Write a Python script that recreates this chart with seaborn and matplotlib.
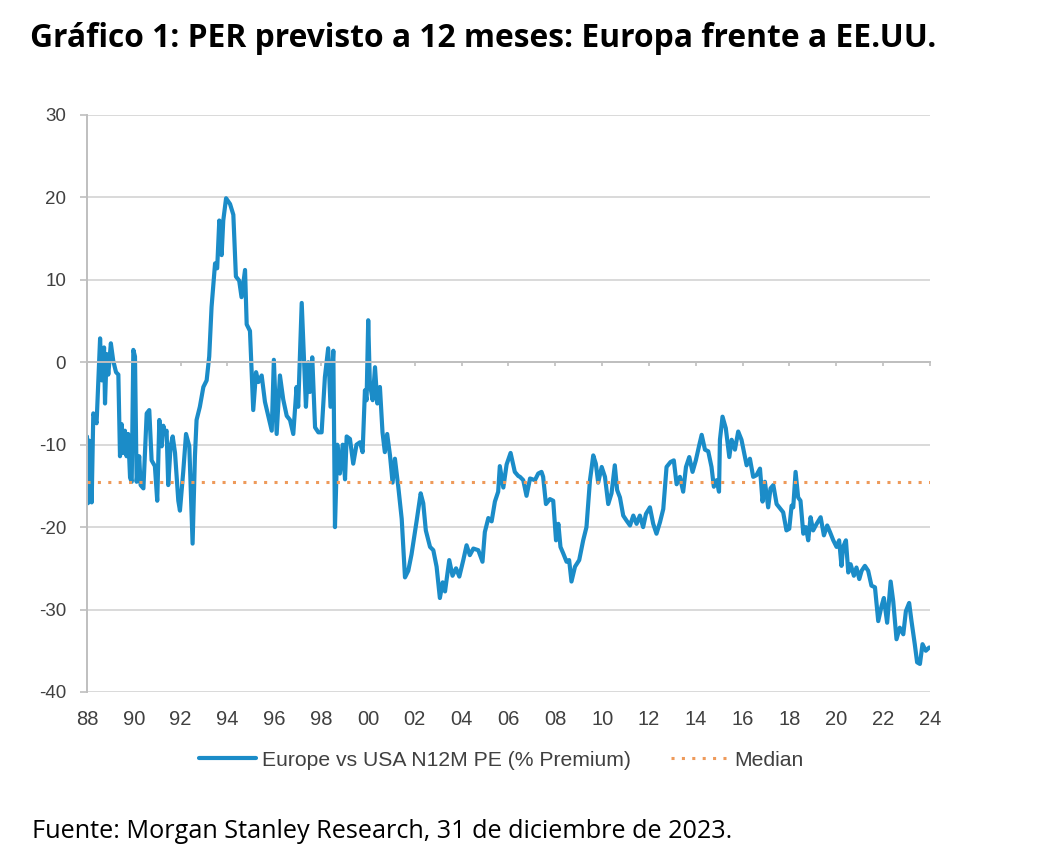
import numpy as np
import pandas as pd
import seaborn as sns
import matplotlib.pyplot as plt

title = "Gráfico 1: PER previsto a 12 meses: Europa frente a EE.UU."
source = "Fuente: Morgan Stanley Research, 31 de diciembre de 2023."
series_label = "Europe vs USA N12M PE (% Premium)"
median_label = "Median"

# decimal year
years = [
    1988.00, 1988.04, 1988.09, 1988.20, 1988.27, 1988.41, 1988.56, 1988.63, 1988.73, 1988.77,
    1988.84, 1988.91, 1989.02, 1989.12, 1989.24, 1989.34, 1989.41, 1989.48, 1989.55, 1989.62,
    1989.69, 1989.76, 1989.84, 1989.91, 1989.98, 1990.05, 1990.12, 1990.23, 1990.29, 1990.41,
    1990.55, 1990.66, 1990.76, 1990.90, 1991.00, 1991.09, 1991.19, 1991.26, 1991.33, 1991.40,
    1991.47, 1991.57, 1991.66, 1991.76, 1991.90, 1991.97, 1992.11, 1992.23, 1992.37, 1992.51,
    1992.61, 1992.68, 1992.82, 1992.97, 1993.11, 1993.22, 1993.32, 1993.47, 1993.56, 1993.65,
    1993.75, 1993.82, 1993.94, 1994.11, 1994.25, 1994.36, 1994.50, 1994.60, 1994.75, 1994.82,
    1994.96, 1995.10, 1995.22, 1995.32, 1995.46, 1995.60, 1995.74, 1995.89, 1995.98, 1996.10,
    1996.24, 1996.38, 1996.53, 1996.67, 1996.81, 1996.95, 1997.02, 1997.17,
    1997.35, 1997.45, 1997.52, 1997.62, 1997.74, 1997.88, 1998.02, 1998.16, 1998.30, 1998.40,
    1998.52, 1998.59, 1998.69, 1998.80, 1998.92, 1999.02, 1999.09, 1999.23, 1999.37, 1999.51,
    1999.66, 1999.77, 1999.87, 1999.94, 2000.01, 2000.08, 2000.20, 2000.30, 2000.40, 2000.51,
    2000.62, 2000.72, 2000.82, 2000.94, 2001.05, 2001.15, 2001.29, 2001.44, 2001.58, 2001.72,
    2001.86, 2002.08, 2002.25, 2002.36, 2002.47, 2002.65, 2002.79, 2002.93, 2003.07, 2003.19,
    2003.29, 2003.47, 2003.61, 2003.76, 2003.90, 2004.07, 2004.21, 2004.35, 2004.50, 2004.71,
    2004.89, 2004.99, 2005.14, 2005.28, 2005.42, 2005.56, 2005.63, 2005.78, 2005.92, 2006.09,
    2006.27, 2006.42,
    2006.49, 2006.63, 2006.77, 2006.92, 2007.13, 2007.27, 2007.41, 2007.48, 2007.60, 2007.77,
    2007.91, 2008.03, 2008.13, 2008.22, 2008.34, 2008.48, 2008.59, 2008.69, 2008.84, 2009.02,
    2009.19, 2009.33, 2009.48, 2009.62, 2009.73, 2009.83, 2009.98, 2010.12, 2010.26, 2010.40,
    2010.54, 2010.64, 2010.76, 2010.90, 2011.04, 2011.19, 2011.33, 2011.47, 2011.61, 2011.75,
    2011.87, 2012.04, 2012.18, 2012.32, 2012.47, 2012.61, 2012.75, 2012.92, 2013.06, 2013.18,
    2013.32, 2013.46, 2013.58, 2013.72, 2013.86, 2014.00, 2014.15, 2014.25, 2014.39, 2014.53,
    2014.67, 2014.77, 2014.89, 2014.99, 2015.03, 2015.14, 2015.28, 2015.43, 2015.53, 2015.67,
    2015.81, 2015.95, 2016.17,
    2016.31, 2016.45, 2016.59, 2016.74, 2016.85, 2016.95, 2017.09, 2017.19, 2017.31, 2017.45,
    2017.62, 2017.73, 2017.87, 2017.99, 2018.09, 2018.16, 2018.26, 2018.37, 2018.47, 2018.59,
    2018.70, 2018.80, 2018.90, 2019.01, 2019.16, 2019.33, 2019.47, 2019.61, 2019.73, 2019.87,
    2020.01, 2020.12, 2020.22, 2020.29, 2020.41, 2020.51, 2020.61, 2020.75, 2020.86, 2020.98,
    2021.08, 2021.22, 2021.36, 2021.50, 2021.65, 2021.79, 2021.93, 2022.03, 2022.17, 2022.32,
    2022.43, 2022.57, 2022.71, 2022.86, 2022.97, 2023.11, 2023.21, 2023.35, 2023.45, 2023.57,
    2023.68, 2023.82, 2023.97,
]

# Europe vs USA 12m fwd PE premium, %
premium = [
    -9.0, -17.1, -9.5, -17.0, -6.2, -7.4, 2.9, -2.2, 1.8, -5.0,
    1.0, -1.5, 2.3, 0.2, -1.2, -1.5, -11.4, -7.5, -11.0, -8.3,
    -11.4, -8.7, -14.0, -14.5, 1.5, 0.7, -14.5, -11.4, -14.9, -15.3,
    -6.2, -5.8, -11.9, -12.6, -16.8, -7.0, -10.2, -7.7, -8.7, -8.3,
    -14.9, -10.2, -9.0, -11.0, -16.8, -18.0, -13.3, -8.7, -10.2, -22.0,
    -11.4, -7.0, -5.4, -3.0, -2.2, 0.7, 6.7, 12.0, 11.4, 17.2,
    13.0, 17.2, 19.9, 19.2, 17.9, 10.4, 9.9, 7.9, 11.2, 4.6,
    3.8, -5.8, -1.2, -2.4, -1.6, -4.8, -6.5, -8.3, 0.3, -8.7,
    -1.6, -4.5, -6.5, -7.0, -8.7, -3.0, -5.4, 7.2,
    -5.4, 0.0, -3.6, 0.6, -7.9, -8.5, -8.5, -1.8, 1.7, -5.4,
    1.4, -20.0, -10.0, -13.5, -10.0, -14.2, -9.0, -9.3, -12.3, -10.0,
    -9.7, -10.9, -3.4, -4.6, 5.1, -2.6, -4.6, -0.6, -5.0, -3.0,
    -8.5, -10.9, -8.7, -11.3, -14.6, -11.7, -15.0, -19.0, -26.1, -25.3,
    -23.3, -19.2, -15.9, -17.1, -20.4, -22.4, -22.8, -24.8, -28.6, -26.7,
    -27.8, -24.0, -25.9, -25.0, -26.0, -24.0, -22.2, -23.4, -22.6, -22.8,
    -24.2, -20.6, -18.9, -19.3, -16.9, -15.7, -12.6, -15.2, -12.4, -11.0,
    -13.3, -13.8,
    -13.9, -14.3, -16.2, -14.1, -14.3, -13.5, -13.3, -13.9, -17.2, -16.6,
    -16.8, -21.6, -19.6, -22.4, -23.2, -24.2, -24.0, -26.6, -24.8, -24.0,
    -21.6, -20.0, -14.3, -11.3, -12.3, -14.6, -12.7, -13.9, -17.2, -15.9,
    -12.5, -15.5, -16.4, -18.6, -19.2, -19.8, -18.6, -19.6, -18.6, -20.0,
    -18.4, -17.6, -19.6, -20.8, -19.4, -17.8, -12.7, -12.1, -11.9, -14.8,
    -13.9, -15.7, -12.7, -11.5, -13.3, -11.9, -10.0, -8.8, -10.6, -10.8,
    -12.7, -15.1, -14.3, -15.7, -9.4, -6.6, -8.0, -11.5, -9.4, -10.6,
    -8.4, -9.4, -12.5,
    -11.7, -13.9, -13.7, -12.9, -16.9, -14.5, -17.6, -15.3, -14.9, -17.2,
    -17.8, -18.2, -20.4, -20.2, -17.4, -17.6, -13.3, -16.4, -16.8, -20.8,
    -20.0, -21.6, -18.8, -20.4, -19.6, -18.8, -21.0, -19.8, -20.6, -21.6,
    -22.4, -21.6, -24.7, -22.4, -21.6, -25.5, -24.5, -25.9, -24.9, -26.3,
    -25.3, -24.7, -25.3, -27.1, -27.3, -31.4, -29.6, -28.6, -31.6, -26.6,
    -29.0, -33.6, -32.2, -33.0, -30.2, -29.2, -31.4, -34.2, -36.4, -36.6,
    -34.2, -35.0, -34.6,
]

median_value = -14.5
xtick_years = list(range(1988, 2025, 2))
yticks = [30, 20, 10, 0, -10, -20, -30, -40]

df = pd.DataFrame({"year": years, "premium": premium})

sns.set_theme(style="white")
plt.rcParams["font.family"] = ["Liberation Sans", "DejaVu Sans"]

BLUE = "#1b8cc8"
ORANGE = "#ee9a5a"
GRID = "#d9d9d9"
TXT = "#404040"

fig = plt.figure(figsize=(10.62, 8.64), dpi=100)
ax = fig.add_axes([0.0819, 0.1991, 0.7938, 0.6678])

sns.lineplot(data=df, x="year", y="premium", ax=ax, color=BLUE, lw=3.0,
             label=series_label, estimator=None)
ax.axhline(median_value, color=ORANGE, lw=2.2, ls=(0, (1, 2.4)), label=median_label)

ax.set_xlim(1988, 2024)
ax.set_ylim(-40, 30)
ax.set_yticks(yticks)
ax.set_yticklabels([str(v) for v in yticks])
ax.yaxis.grid(True, color=GRID, lw=1.4)
ax.set_axisbelow(True)
ax.set_xlabel("")
ax.set_ylabel("")

for s in ["top", "right"]:
    ax.spines[s].set_visible(False)
ax.spines["left"].set_color("#bfbfbf")
ax.spines["left"].set_linewidth(1.4)
# category axis crosses at zero, like the original Excel chart
ax.spines["bottom"].set_position(("data", 0))
ax.spines["bottom"].set_color("#bfbfbf")
ax.spines["bottom"].set_linewidth(1.4)
ax.set_xticks(xtick_years)
ax.tick_params(axis="x", bottom=True, length=3, width=1.2, color="#bfbfbf", labelbottom=False)
ax.tick_params(axis="y", left=True, length=5, width=1.2, color="#bfbfbf",
               labelsize=13.5, labelcolor=TXT, pad=10)

sec = ax.secondary_xaxis("bottom")
sec.set_xticks(xtick_years)
sec.set_xticklabels([f"{y % 100:02d}" for y in xtick_years])
sec.tick_params(length=0, labelsize=14.5, labelcolor=TXT, pad=13)
sec.spines["bottom"].set_visible(False)

ax.legend(loc="center", bbox_to_anchor=(0.472, 0.12), bbox_transform=fig.transFigure,
          ncol=2, frameon=False, fontsize=15.2, handlelength=2.7, handletextpad=0.3,
          columnspacing=1.9, labelcolor=TXT)

fig.text(30 / 1062, 1 - 47 / 864, title, fontsize=22.9, fontweight="bold",
         family="Open Sans", color="black", va="baseline", ha="left")
fig.text(32 / 1062, 1 - 838 / 864, source, fontsize=18.2,
         family="Open Sans", color="black", va="baseline", ha="left")

fig.savefig("out.png", dpi=100, facecolor="white")
